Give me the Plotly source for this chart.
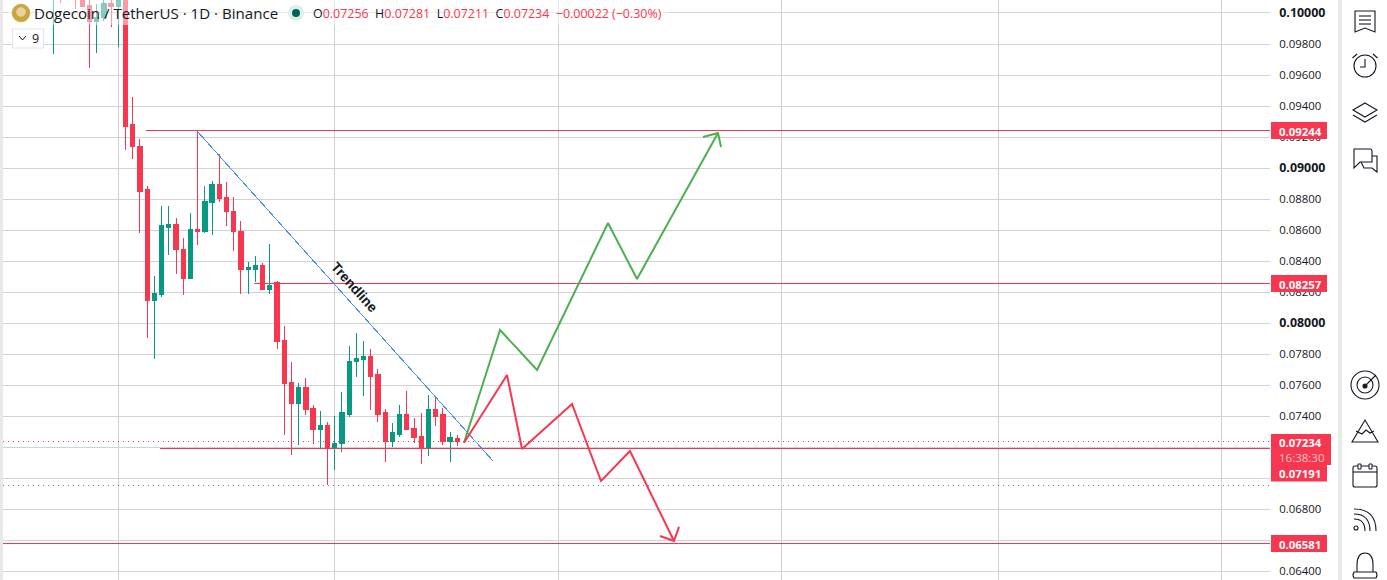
import plotly.graph_objects as go

W, H = 1387, 580
PL, PR = 3, 1270

# ---- data (in units of 0.001 of price, rescaled below) ----
opens = [100.9, 101.2, 101.3, 101.3, 101.0, 100.51, 99.48, 99.74, 100.64, 100.39,
         102.5, 92.78, 91.42, 88.59, 81.43, 81.88, 86.20, 86.39, 84.78, 82.91,
         86.07, 85.94, 87.81, 88.91, 88.13, 87.17, 85.94, 83.49, 83.49, 83.75,
         82.20, 82.59, 78.91, 76.15, 74.85, 75.82, 74.53, 73.17, 73.43, 72.01,
         72.21, 74.14, 77.50, 77.63, 77.88, 76.66, 74.21, 72.40, 72.85, 74.14,
         73.24, 72.72, 71.95, 74.46, 74.08, 72.34, 72.56]
highs = [101.3, 101.3, 101.4, 101.4, 101.3, 101.1, 100.6, 100.9, 100.9, 100.95,
         102.8, 94.58, 91.87, 88.84, 83.04, 87.55, 87.55, 86.78, 85.49, 87.10,
         92.39, 88.84, 89.17, 90.91, 89.10, 88.13, 86.59, 83.94, 84.33, 83.88,
         85.10, 82.72, 79.82, 77.50, 76.15, 76.46, 74.72, 74.34, 73.63, 74.01,
         75.56, 78.53, 79.36, 78.85, 78.33, 77.04, 74.46, 73.56, 74.72, 75.62,
         73.88, 74.21, 75.37, 75.24, 74.53, 72.98, 72.81]
lows = [97.36, 100.64, 100.9, 100.26, 100.45, 96.45, 97.42, 99.48, 99.10, 97.81,
        91.17, 90.58, 85.81, 79.04, 77.69, 81.69, 84.40, 83.17, 81.81, 82.91,
        85.04, 85.81, 85.68, 87.81, 86.27, 84.65, 81.88, 81.88, 82.65, 82.14,
        81.88, 78.33, 72.79, 71.50, 72.14, 74.08, 72.21, 71.95, 69.56, 70.53,
        71.69, 73.95, 76.53, 75.30, 74.40, 73.63, 71.05, 72.01, 72.66, 73.17,
        72.27, 70.92, 71.43, 73.37, 72.14, 71.05, 72.11]
closes = [101.1, 101.0, 101.1, 101.1, 100.45, 99.48, 99.74, 100.64, 100.39, 100.9,
          92.71, 91.36, 88.52, 81.43, 81.94, 86.27, 86.33, 84.72, 82.91, 86.07,
          85.94, 87.87, 88.91, 88.07, 87.17, 85.88, 83.49, 83.56, 83.69, 82.20,
          82.46, 78.85, 76.08, 74.85, 75.82, 74.46, 73.17, 73.43, 72.01, 72.21,
          74.21, 77.56, 77.69, 77.88, 76.59, 74.14, 72.40, 72.92, 74.14, 73.17,
          72.66, 71.89, 74.46, 74.01, 72.34, 72.60, 72.34]
month_starts = [9, 39, 70, 101, 131, 162]
levels = [92.44, 82.57, 71.91, 65.81]
level_starts = [12.84, 27.81, 14.78, -7]
last_price = 72.34
low_dotted = 69.56
trend_x = [19.91, 60.95]
trend_y = [92.39, 71.11]
green_x = [56.93, 61.92, 67.05, 76.89, 80.91, 92.14]
green_y = [72.29, 79.56, 76.98, 86.46, 82.85, 92.26]
green_head_x = [90.06, 92.14, 92.56]
green_head_y = [92.00, 92.26, 91.36]
red_x = [56.93, 62.89, 64.97, 71.90, 75.92, 79.94, 86.04]
red_y = [72.29, 76.66, 71.89, 74.79, 69.82, 71.76, 65.95]
red_head_x = [84.10, 86.04, 86.73]
red_head_y = [66.28, 65.95, 66.86]
y_ticks = [64, 66, 68, 70, 72, 74, 76, 78, 80, 82, 84, 86, 88, 90, 92, 94, 96, 98, 100]
covered_ticks = {66, 70, 72}
level_labels = ["0.09244", "0.08257", "0.07191", "0.06581"]
last_label = "0.07234"
countdown = "16:38:30"

RED, GREEN = "#F7374F", "#089981"
LINEGREEN = "#4CAF50"
BLUE = "#4A8FF0"
GRID = "#D3D3D3"
TXT = "#131722"
FONT = "Open Sans"
SC = 1e-3


def sc(a):
    return [v * SC for v in a]


fig = go.Figure()
idx = list(range(len(opens)))
fig.add_trace(go.Candlestick(
    x=idx, open=sc(opens), high=sc(highs), low=sc(lows), close=sc(closes),
    increasing=dict(line=dict(color=GREEN, width=1), fillcolor=GREEN),
    decreasing=dict(line=dict(color=RED, width=1), fillcolor=RED),
    showlegend=False))

XMAX = 168.67


def line(x, y, color, width, dash=None):
    fig.add_trace(go.Scatter(x=x, y=sc(y), mode="lines", showlegend=False, hoverinfo="skip",
                             line=dict(color=color, width=width, dash=dash)))


line([-7, XMAX], [last_price] * 2, RED, 1, "1px,4px")
line([-7, XMAX], [low_dotted] * 2, "#787B86", 1, "1px,4px")
for st, lv in zip(level_starts, levels):
    line([st, XMAX], [lv, lv], RED, 1)
line(trend_x, trend_y, BLUE, 1)
line(green_x, green_y, LINEGREEN, 2)
line(green_head_x, green_head_y, LINEGREEN, 2)
line(red_x, red_y, RED, 2)
line(red_head_x, red_head_y, RED, 2)


def px(x):
    return (x - PL) / (PR - PL)


def py(y):
    return 1 - y / H


shapes = []
annos = []


def pth(d, color=TXT, w=1.1, fill=None):
    out = []
    for c in d:
        if isinstance(c, str):
            out.append(c)
        else:
            out.append(f"{px(c[0]):.5f},{py(c[1]):.5f}")
    s = " ".join(out)
    shapes.append(dict(type="path", xref="paper", yref="paper", path=s,
                       line=dict(color=color, width=w),
                       fillcolor=fill if fill else "rgba(0,0,0,0)", layer="above"))


def rect(x0, y0, x1, y1, fill, op=1, lc=None):
    shapes.append(dict(type="rect", xref="paper", yref="paper", x0=px(x0), x1=px(x1), y0=py(y0), y1=py(y1),
                       fillcolor=fill, opacity=op, line=dict(width=1 if lc else 0, color=lc or fill), layer="above"))


def circ(cx, cy, r, fill="rgba(0,0,0,0)", lc=TXT, w=1.1):
    shapes.append(dict(type="circle", xref="paper", yref="paper", x0=px(cx - r), x1=px(cx + r), y0=py(cy + r),
                       y1=py(cy - r), fillcolor=fill, line=dict(color=lc, width=w), layer="above"))


def text(x, y, s, size=12, color=TXT, anchor="left", font=FONT):
    annos.append(dict(xref="paper", yref="paper", x=px(x), y=py(y), text=s, showarrow=False,
                      xanchor=anchor, yanchor="middle", font=dict(family=font, size=size, color=color),
                      borderpad=0, borderwidth=0))


# frame bands
rect(0, 0, 3, 580, "#E9E9E9")
rect(1338, 0, 1342, 580, "#E9E9E9")

# legend backdrop
rect(8, 0, 668, 25, "#FFFFFF", 0.5)
circ(21, 13, 9, "#C9A63C", "#C9A63C", 0.5)
circ(21, 12, 4.5, "#E6D3A0", "#E6D3A0", 0.5)
text(34, 13.5, "Dogecoin / TetherUS · 1D · Binance", 15.1)
circ(296, 13, 8, "#DCEFEB", "#DCEFEB", 0)
circ(296, 13, 4, "#00665A", "#00665A", 0)
sp = lambda s: f'<span style="color:{RED}">{s}</span>'
text(313, 13.5, "O" + sp("0.07256") + "  H" + sp("0.07281") + "  L" + sp("0.07211") + "  C" + sp("0.07234") +
     "  " + sp("−0.00022 (−0.30%)"), 12.45)

# collapsed-indicators chip
shapes.append(dict(type="rect", xref="paper", yref="paper", x0=px(12.5), x1=px(43.5), y0=py(48), y1=py(29),
                   fillcolor="#FFFFFF", line=dict(color="#E0E3EB", width=1), layer="above"))
pth(["M", (19, 36), "L", (22.5, 40), "L", (26, 36)], TXT, 1)
text(32, 38.5, "9", 12.5)

# price labels
LBL_Y = [130.5, 283.5, 473, 543.5]
for lab, yy in zip(level_labels, LBL_Y):
    rect(1271, yy - 8.5, 1327, yy + 8.5, RED)
    text(1300, yy + 0.5, f"<b>{lab}</b>", 11.4, "#FFFFFF", "center")
rect(1271, 434, 1331, 465, RED)
text(1300, 442, f"<b>{last_label}</b>", 11.4, "#FFFFFF", "center")
text(1302, 457, countdown, 11.5, "#FFC4CC", "center")

# sidebar icons
pth(["M", (1355, 11), "L", (1375, 11), "L", (1375, 32), "L", (1365, 28), "L", (1355, 32), "Z"])
for yy in (16, 20, 24):
    pth(["M", (1359, yy), "L", (1371, yy)])
circ(1365, 66, 11)
pth(["M", (1365, 59), "L", (1365, 67), "L", (1360, 67)])
pth(["M", (1352.5, 58), "L", (1357, 54)])
pth(["M", (1373, 54), "L", (1377.5, 58)])
pth(["M", (1365, 103), "L", (1377, 110), "L", (1365, 117), "L", (1353, 110), "Z"])
pth(["M", (1353, 115), "L", (1365, 122), "L", (1377, 115)])
pth(["M", (1354, 149), "L", (1370, 149), "Q", (1372, 149), (1372, 151), "L", (1372, 162), "L", (1360, 162),
     "L", (1354, 168), "Z"])
pth(["M", (1372, 156), "L", (1377, 156), "L", (1377, 172), "L", (1372, 168), "L", (1364, 168), "L", (1361, 162)])
circ(1365, 385, 14)
circ(1365, 385, 8)
circ(1365, 386, 2, TXT, TXT)
pth(["M", (1365, 386), "L", (1376, 375)])
pth(["M", (1352, 442), "L", (1378, 442), "L", (1365, 420), "Z"])
pth(["M", (1356, 431), "L", (1362, 434), "L", (1366, 430), "L", (1370, 433), "L", (1374, 431)])
pth(["M", (1355, 466), "L", (1375, 466), "Q", (1377, 466), (1377, 468), "L", (1377, 485), "Q", (1377, 487), (1375, 487),
     "L", (1355, 487), "Q", (1353, 487), (1353, 485), "L", (1353, 468), "Q", (1353, 466), (1355, 466), "Z"])
rect(1358, 464, 1361, 469, "#FFFFFF", 1, TXT)
rect(1369, 464, 1372, 469, "#FFFFFF", 1, TXT)
pth(["M", (1353, 472), "L", (1377, 472)])
circ(1356, 528, 2)
pth(["M", (1354, 519), "Q", (1365, 519), (1365, 531)])
pth(["M", (1354, 514), "Q", (1370, 514), (1370, 531)])
pth(["M", (1354, 509), "Q", (1376, 509), (1376, 531)])
pth(["M", (1357, 572), "L", (1357, 565), "Q", (1357, 553), (1365, 553), "Q", (1373, 553), (1373, 565), "L", (1373, 572)])
pth(["M", (1354, 572), "L", (1376, 572), "Q", (1378, 575), (1376, 578), "L", (1354, 578), "Q", (1352, 575), (1354, 572), "Z"])

# trendline caption
annos.append(dict(x=41.68, y=82.27 * SC, xref="x", yref="y", text="<b>Trendline</b>", showarrow=False,
                  textangle=48, font=dict(family="Liberation Sans", size=13.8, color="#131722")))

bold = {100, 90, 80}


def tick_label(v):
    if v in covered_ticks:
        return ""
    s = f"{v * SC:.5f}"
    return f'<span style="font-size:12.4px"><b>{s}</b></span>' if v in bold else s


fig.update_layout(
    width=W, height=H, autosize=False,
    margin=dict(l=PL, r=W - PR, t=0, b=0),
    paper_bgcolor="#FFFFFF", plot_bgcolor="#FFFFFF",
    boxgap=0.15, showlegend=False,
    shapes=shapes, annotations=annos,
    xaxis=dict(range=[-6.99, XMAX], tickmode="array", tickvals=month_starts, ticktext=[""] * 6,
               showgrid=True, gridcolor="#CFCFCF", gridwidth=1, zeroline=False, showline=False,
               ticks="", rangeslider=dict(visible=False), fixedrange=True),
    yaxis=dict(range=[0.098 - (580 - 44) / 15509, 0.098 + 44 / 15509], side="right",
               tickmode="array", tickvals=sc(y_ticks),
               ticktext=[tick_label(v) for v in y_ticks],
               showgrid=True, gridcolor=GRID, gridwidth=1, zeroline=False, showline=False, ticks="outside",
               ticklen=6, tickcolor="rgba(0,0,0,0)", tickfont=dict(family=FONT, size=11.4, color=TXT), fixedrange=True),
)
fig.write_html("out.html", config=dict(displayModeBar=False),
               post_script="""
document.body.style.margin='0';
document.querySelectorAll('.js-line').forEach(function(p){
  if(parseFloat(p.style.strokeWidth)<=1){p.style.shapeRendering='crispEdges';}
});
document.querySelectorAll('.boxlayer path').forEach(function(p){p.style.shapeRendering='crispEdges';});
""")
